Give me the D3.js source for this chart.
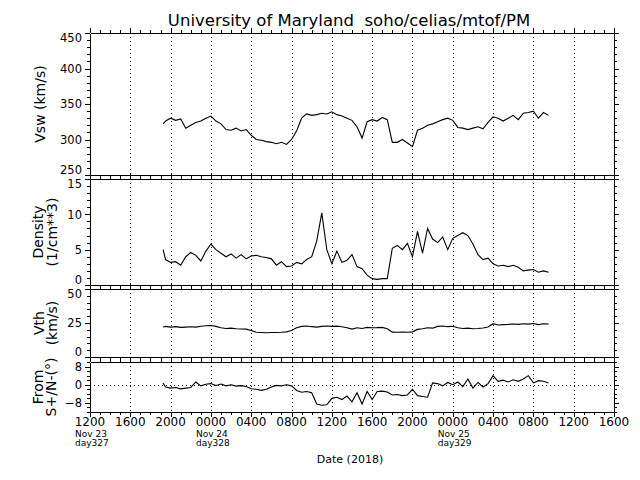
<!DOCTYPE html>
<html>
<head>
<meta charset="utf-8">
<script src="https://cdn.jsdelivr.net/npm/d3@7"></script>
<style>
  body { margin: 0; background: #fff; }
  svg { display: block; font-family: "DejaVu Sans", sans-serif; }
</style>
</head>
<body>
<svg id="chart" width="640" height="480"></svg>
<script>
// Hours after 1200 UT, Nov 23 2018
const hours = [7.25, 7.5, 8, 8.5, 9, 9.5, 10, 10.5, 11, 11.5, 12, 12.5, 13, 13.5, 14, 14.5, 15, 15.5, 16, 16.5,
    17, 17.5, 18, 18.5, 19, 19.5, 20, 20.5, 21, 21.5, 22, 22.5, 23, 23.5, 24, 24.5, 25, 25.5, 26, 26.5,
    27, 27.5, 28, 28.5, 29, 29.5, 30, 30.5, 31, 31.5, 32, 32.5, 33, 33.5, 34, 34.5, 35, 35.5, 36, 36.5,
    37, 37.5, 38, 38.5, 39, 39.5, 40, 40.5, 41, 41.5, 42, 42.5, 43, 43.5, 44, 44.5, 45, 45.5];

const vsw = [322, 326, 330, 327, 329, 316, 320, 324, 326, 330, 333, 326, 322, 314, 313, 316, 312, 314, 306, 300,
    299, 297, 296, 294, 296, 293, 300, 312, 330, 336, 334, 335, 337, 336, 339, 335, 333, 330, 327, 318,
    302, 325, 328, 326, 331, 328, 296, 296, 300, 295, 290, 313, 316, 320, 322, 325, 328, 330, 327, 317,
    316, 314, 316, 318, 315, 324, 332, 330, 326, 330, 334, 328, 337, 338, 340, 330, 338, 334];

const density = [5.0, 3.6, 3.2, 3.3, 2.8, 4.0, 4.6, 4.2, 3.4, 4.8, 5.8, 5.0, 4.5, 4.0, 4.4, 3.8, 4.3, 3.7, 4.1, 4.2,
    4.0, 3.9, 3.7, 2.8, 3.3, 2.6, 2.7, 3.2, 3.0, 3.6, 4.0, 6.2, 10.2, 5.0, 3.0, 4.8, 3.2, 3.5, 4.3, 2.6,
    2.3, 1.4, 0.9, 0.8, 0.9, 0.9, 5.2, 5.6, 5.0, 5.9, 4.0, 7.6, 4.5, 8.0, 6.5, 6.0, 6.8, 5.0, 6.6, 7.0,
    7.4, 7.0, 5.8, 4.3, 3.6, 3.8, 3.0, 2.7, 2.8, 2.6, 2.8, 2.5, 2.0, 2.1, 2.2, 1.8, 2.0, 1.8];

const vth = [22, 22.5, 22, 22.3, 21.8, 22, 22.2, 22, 22.6, 23, 23.2, 22.5, 21.5, 21, 21.2, 20.8, 20.6, 20.5, 19.5, 18.2,
    18, 17.8, 18, 18, 18.2, 18.5, 19.5, 21.5, 22.5, 22.8, 22.3, 22, 22.5, 22.8, 22.5, 22.7, 22.3, 21.5, 20.5, 21.5,
    21, 21.8, 21.5, 21.6, 21.8, 20.8, 18.3, 18.2, 18.3, 18.2, 18.5, 20.3, 20.8, 21.5, 21.2, 22.5, 22.8, 22.3, 22.6, 21.5,
    21, 21.2, 20.8, 21, 21.3, 22, 24.5, 23.5, 23.8, 24, 24.3, 24, 24.5, 24.2, 24.6, 23.8, 24.5, 24.2];

const flowAngle = [0.7, -1.0, -1.5, -1.2, -1.8, -1.5, -1.2, 1.2, -0.5, 0.2, 0.5, -0.3, 0.3, -0.5, 0.0, -0.6, -0.4, -0.8, -1.8, -2.0,
    -2.5, -2.0, -1.0, -0.3, -0.5, 0.0, -0.5, -2.5, -3.3, -3.0, -3.5, -8.5, -9.0, -8.8, -6.0, -5.5, -6.5, -5.0, -7.5, -3.5,
    -8.5, -3.0, -6.5, -3.0, -2.8, -3.2, -4.5, -4.3, -4.8, -4.5, -2.0, -4.8, -5.2, -5.5, 0.8, 0.5, -0.5, 1.0, 0.0, 1.2,
    -0.8, 2.5, -1.5, 1.0, -1.0, 0.5, 4.0, 1.5, 2.0, 1.2, 2.2, 1.5, 2.5, 4.0, 0.8, 1.8, 1.5, 0.8];

// Time axis
const xTickHours = [0, 4, 8, 12, 16, 20, 24, 28, 32, 36, 40, 44, 48, 52];
const xTickLabels = ['1200', '1600', '2000', '0000', '0400', '0800', '1200', '1600', '2000', '0000', '0400', '0800', '1200', '1600'];
const dayHours = [0, 12, 36];
const dayDates = ['Nov 23', 'Nov 24', 'Nov 25'];
const dayNumbers = ['day327', 'day328', 'day329'];

// Y ticks per panel
const vswTicks = [250, 300, 350, 400, 450];
const densityTicks = [0, 5, 10, 15];
const vthTicks = [0, 25, 50];
const angleTicks = [-8, 0, 8];

const svg = d3.select('#chart');
const x = d3.scaleLinear().domain([0, 52]).range([90, 614]);

const panels = [
    { values: vsw, top: 33, bottom: 175, domain: [250, 450], ticks: vswTicks, minor: 10,
      label: ['Vsw (km/s)'], labelX: [45] },
    { values: density, top: 179, bottom: 285, domain: [0, 15], ticks: densityTicks, minor: 1,
      label: ['Density', '(1/cm**3)'], labelX: [43, 57] },
    { values: vth, top: 289, bottom: 357, domain: [0, 50], ticks: vthTicks, minor: 5,
      label: ['Vth', '(km/s)'], labelX: [44, 57] },
    { values: flowAngle, top: 362, bottom: 412, domain: [-12, 10], ticks: angleTicks, minor: 2,
      label: ['From', 'S+/N-(°)'], labelX: [43, 56], zeroLine: true }
];

panels.forEach(p => {
    const y = d3.scaleLinear().domain(p.domain).range([p.bottom, p.top]);
    const g = svg.append('g');

    // Dotted time grid
    g.selectAll('.grid')
        .data(xTickHours.slice(1, -1))
        .enter()
        .append('line')
        .attr('x1', d => Math.round(x(d)) + 0.5)
        .attr('x2', d => Math.round(x(d)) + 0.5)
        .attr('y1', p.top)
        .attr('y2', p.bottom)
        .attr('stroke', '#000')
        .attr('stroke-dasharray', '1,3');

    if (p.zeroLine) {
        g.append('line')
            .attr('x1', x(0)).attr('x2', x(52))
            .attr('y1', Math.round(y(0)) + 0.5).attr('y2', Math.round(y(0)) + 0.5)
            .attr('stroke', '#000')
            .attr('stroke-dasharray', '1,3');
    }

    const minorY = d3.range(p.domain[0], p.domain[1] + 0.001, p.minor);
    const minorX = d3.range(0, 53, 1);

    // Left axis
    const left = g.append('g')
        .attr('transform', `translate(${x(0)},0)`)
        .call(d3.axisLeft(y).tickValues(p.ticks).tickSize(5).tickSizeOuter(0).tickPadding(3).tickFormat(d3.format('d')));
    left.selectAll('text')
        .attr('y', d => d === p.domain[1] ? 5 : (d === p.domain[0] ? -5 : 0));
    g.append('g')
        .attr('transform', `translate(${x(0)},0)`)
        .call(d3.axisLeft(y).tickValues(minorY).tickSize(3).tickFormat(''))
        .select('.domain').remove();

    // Right axis
    g.append('g')
        .attr('transform', `translate(${x(52)},0)`)
        .call(d3.axisRight(y).tickValues(p.ticks).tickSize(5).tickSizeOuter(0).tickFormat(''));
    g.append('g')
        .attr('transform', `translate(${x(52)},0)`)
        .call(d3.axisRight(y).tickValues(minorY).tickSize(3).tickFormat(''))
        .select('.domain').remove();

    // Top and bottom time axes
    g.append('g')
        .attr('transform', `translate(0,${p.top})`)
        .call(d3.axisTop(x).tickValues(xTickHours).tickSize(5).tickSizeOuter(0).tickFormat(''));
    g.append('g')
        .attr('transform', `translate(0,${p.top})`)
        .call(d3.axisTop(x).tickValues(minorX).tickSize(3).tickFormat(''))
        .select('.domain').remove();
    g.append('g')
        .attr('transform', `translate(0,${p.bottom})`)
        .call(d3.axisBottom(x).tickValues(xTickHours).tickSize(5).tickSizeOuter(0).tickFormat(''));
    g.append('g')
        .attr('transform', `translate(0,${p.bottom})`)
        .call(d3.axisBottom(x).tickValues(minorX).tickSize(3).tickFormat(''))
        .select('.domain').remove();

    g.selectAll('.tick text')
        .attr('font-family', '"DejaVu Sans", sans-serif')
        .attr('font-size', 11.5)
        .attr('fill', '#000');

    // Data line
    const line = d3.line()
        .x((d, i) => x(hours[i]))
        .y(d => y(d));
    g.append('path')
        .datum(p.values)
        .attr('fill', 'none')
        .attr('stroke', '#000')
        .attr('stroke-width', 1.1)
        .attr('d', line);

    // Axis title (rotated)
    const midY = (p.top + p.bottom) / 2;
    p.label.forEach((txt, k) => {
        svg.append('text')
            .attr('transform', `translate(${p.labelX[k]},${midY}) rotate(-90)`)
            .attr('text-anchor', 'middle')
            .style('font-size', '14px')
            .text(txt);
    });
});

svg.selectAll('.domain, .tick line').attr('stroke', '#000').attr('shape-rendering', 'crispEdges');

// Time labels under the last panel
svg.selectAll('.xlab')
    .data(xTickLabels)
    .enter()
    .append('text')
    .attr('x', (d, i) => x(xTickHours[i]))
    .attr('y', 426)
    .attr('text-anchor', 'middle')
    .style('font-size', '12px')
    .text(d => d);

svg.selectAll('.daydate')
    .data(dayDates)
    .enter()
    .append('text')
    .attr('x', (d, i) => x(dayHours[i]) - 15)
    .attr('y', 437)
    .style('font-size', '9px')
    .text(d => d);

svg.selectAll('.daynum')
    .data(dayNumbers)
    .enter()
    .append('text')
    .attr('x', (d, i) => x(dayHours[i]) - 15)
    .attr('y', 446)
    .style('font-size', '9px')
    .text(d => d);

svg.append('text')
    .attr('x', 350)
    .attr('y', 463)
    .attr('text-anchor', 'middle')
    .style('font-size', '11px')
    .text('Date (2018)');

// Title
svg.append('text')
    .attr('x', 349)
    .attr('y', 26)
    .attr('text-anchor', 'middle')
    .style('font-size', '16.5px')
    .style('white-space', 'pre')
    .text('University of Maryland  soho/celias/mtof/PM');
</script>
</body>
</html>
